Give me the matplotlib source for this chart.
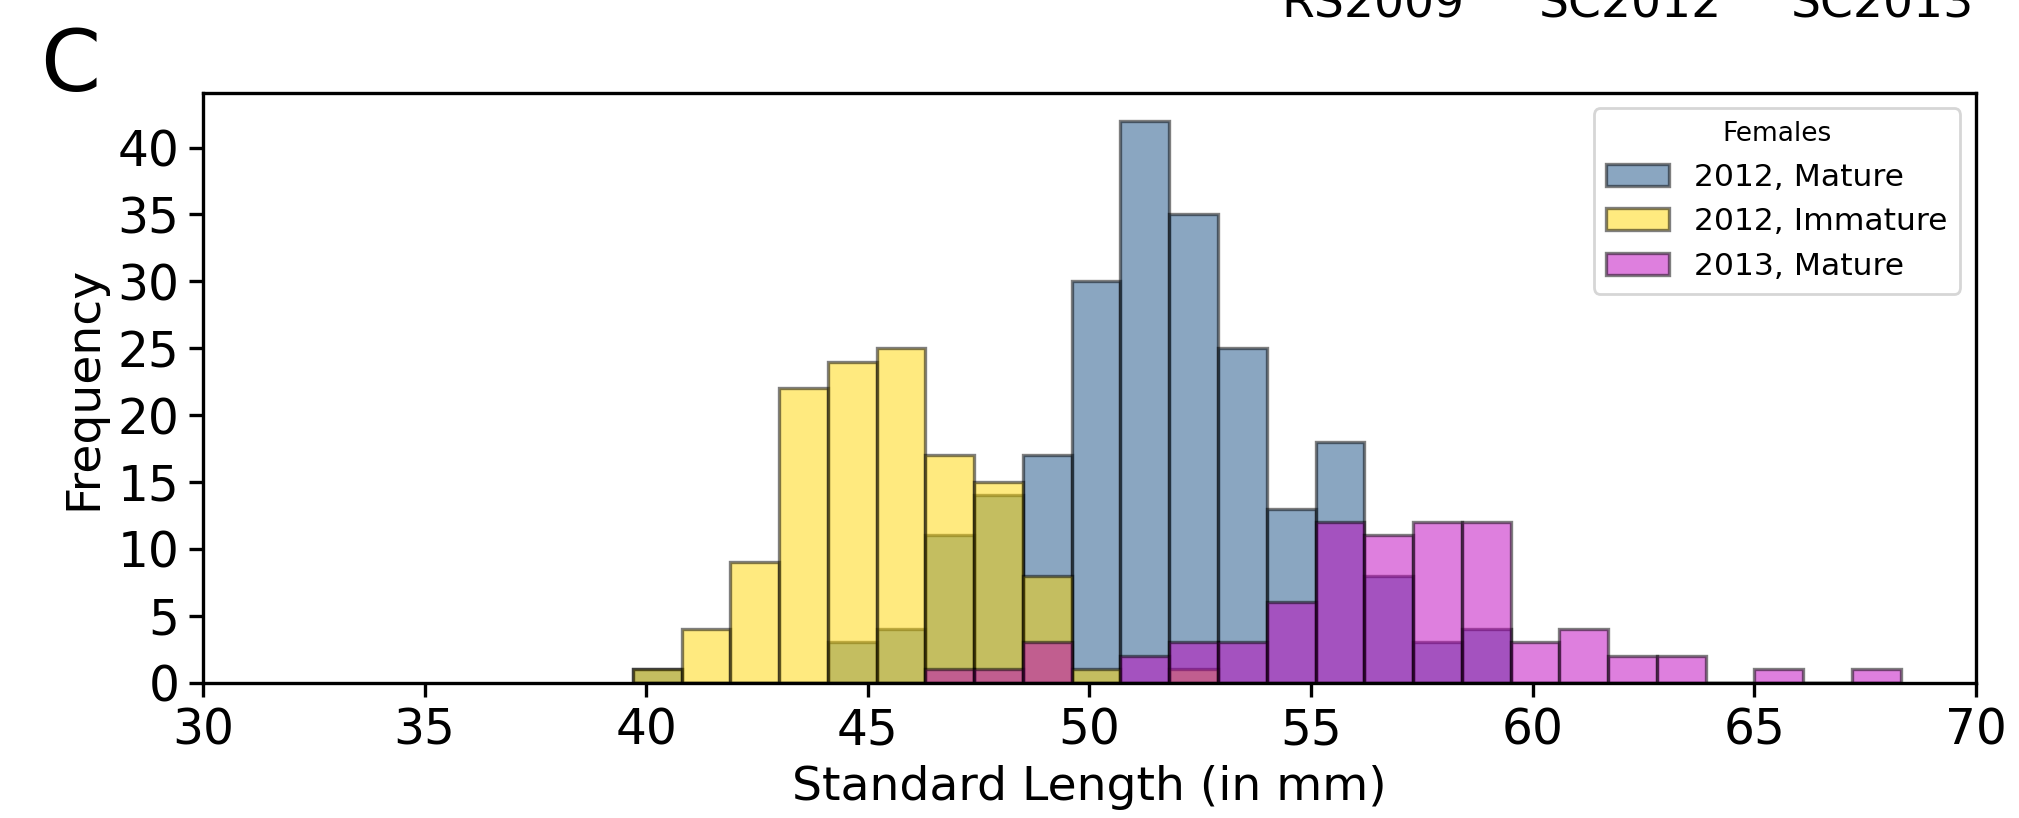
import matplotlib
matplotlib.use("Agg")
import matplotlib.pyplot as plt
from matplotlib.ticker import MultipleLocator

# bin edges (mm) shared by the three histograms
bin_edges = [39.7, 40.8, 41.9, 43.0, 44.1, 45.2, 46.3, 47.4, 48.5, 49.6, 50.7,
             51.8, 52.9, 54.0, 55.1, 56.2, 57.3, 58.4, 59.5, 60.6, 61.7, 62.8,
             63.9, 65.0, 66.1, 67.2, 68.3]

# counts per bin
mature_2012 = [1, 0, 0, 0, 3, 4, 11, 14, 17, 30, 42, 35, 25, 13, 18, 8, 3, 4,
               0, 0, 0, 0, 0, 0, 0, 0]
immature_2012 = [1, 4, 9, 22, 24, 25, 17, 15, 8, 1, 0, 1, 0, 0, 0, 0, 0, 0,
                 0, 0, 0, 0, 0, 0, 0, 0]
mature_2013 = [0, 0, 0, 0, 0, 0, 1, 1, 3, 0, 2, 3, 3, 6, 12, 11, 12, 12,
               3, 4, 2, 2, 0, 1, 0, 1]

series_labels = ["2012, Mature", "2012, Immature", "2013, Mature"]
site_labels = ["RS2009", "SC2012", "SC2013"]

colors = ["#164e84", "gold", "m"]

fig = plt.figure(figsize=(10.095, 4.09), dpi=200)
ax = fig.add_axes([0.1005, 0.1656, 0.8782, 0.7211])

centers = [(bin_edges[i] + bin_edges[i + 1]) / 2 for i in range(len(bin_edges) - 1)]
for counts, lab, col in zip([mature_2012, immature_2012, mature_2013], series_labels, colors):
    ax.hist(centers, bins=bin_edges, weights=counts, color=col, alpha=0.5,
            edgecolor="black", linewidth=1.2, label=lab)

ax.set_xlim(30, 70)
ax.yaxis.set_major_locator(MultipleLocator(5))
ax.set_xlabel("Standard Length (in mm)", fontsize=17)
ax.set_ylabel("Frequency", fontsize=17)
ax.tick_params(labelsize=17.5, width=1.2, length=5)
for s in ax.spines.values():
    s.set_linewidth(1.2)

leg = ax.legend(title="Females", fontsize=11.3, title_fontsize=9.5, loc="upper right")

fig.text(0.02, 1 - 91 / 818, "C", fontsize=31, va="baseline")
for xc, t in zip([1373, 1630, 1882], site_labels):
    fig.text(xc / 2019, 1 - 17 / 818, t, fontsize=17, ha="center", va="baseline")

fig.savefig("out.png", dpi=200)
